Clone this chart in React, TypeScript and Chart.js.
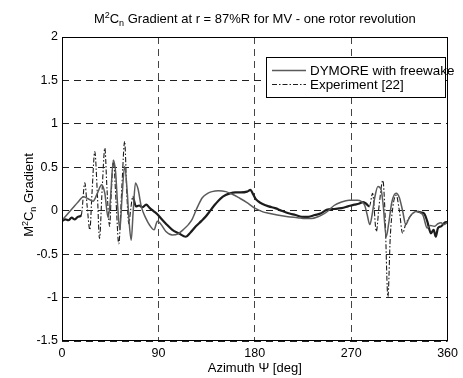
import React, { useEffect, useRef } from "react";
import { Chart, registerables } from "chart.js";
Chart.register(...registerables);

// ---- data ----
const dymoreAz = [0, 5, 10, 15, 20, 24, 29, 33, 37, 40, 43, 45, 48, 50, 52, 54, 56, 58.5, 61, 62.5, 64.6, 66.5, 68.6, 71, 74, 78, 82, 86, 89, 92, 97, 103, 108, 113, 118, 121.5, 126, 131, 136, 140, 146, 153, 159, 165, 172, 180, 187, 193, 201, 211, 220, 227, 233, 239, 244, 248.6, 254, 261, 268, 276, 279, 282.7, 285, 287.4, 289.5, 292, 295, 298, 300, 302.7, 305, 308, 312, 315, 318, 321, 323.5, 326, 330.6, 334, 337, 341, 344, 347.6, 351, 353.8, 357, 360];
const dymoreVal = [-0.11, -0.04, 0.03, 0.1, 0.16, 0.14, 0.11, 0.2, 0.3, 0.2, -0.08, 0.1, 0.58, 0.45, 0.05, -0.22, 0.15, 0.51, 0.2, -0.1, -0.34, 0.0, 0.32, 0.25, 0.05, -0.08, -0.17, -0.22, -0.12, -0.15, -0.24, -0.28, -0.27, -0.22, -0.16, -0.1, 0.03, 0.15, 0.2, 0.22, 0.23, 0.22, 0.19, 0.15, 0.1, 0.03, -0.01, -0.03, -0.05, -0.07, -0.08, -0.09, -0.09, -0.07, -0.04, 0.0, 0.06, 0.1, 0.12, 0.12, 0.11, 0.06, -0.05, -0.16, -0.05, 0.15, 0.28, 0.24, 0.05, -0.3, -0.15, 0.1, 0.2, 0.15, 0.0, -0.16, -0.1, -0.05, -0.01, -0.02, -0.05, -0.2, -0.17, -0.18, -0.15, -0.14, -0.16, -0.13];

const expAz = [0, 3, 6, 9, 12, 15, 18, 21.3, 23.5, 26, 28, 30.6, 33, 35, 37.5, 40, 42, 44.5, 46, 48, 50.5, 53, 56, 58.5, 60.5, 62.4, 64, 66, 69, 72, 75, 78.6, 82, 86, 89, 92.5, 97, 103, 109, 115.6, 120, 125, 130, 134, 139, 143.5, 148, 152.8, 157, 162, 167, 172.8, 176, 178, 180.6, 183, 186.8, 193, 199, 205, 211.5, 218, 224, 230, 236, 242, 247, 254, 261, 267, 273, 277, 281, 284, 287, 290, 293.5, 296, 299.6, 301.5, 304.3, 306.5, 309, 312, 315, 318, 321, 326, 332, 335, 338, 341, 344.5, 347, 349, 351, 354, 357, 360];
const expVal = [-0.12, -0.1, -0.11, -0.08, -0.1, -0.07, -0.05, 0.32, 0.05, -0.22, 0.2, 0.68, 0.2, -0.32, 0.25, 0.72, 0.25, -0.18, 0.2, 0.58, 0.1, -0.38, 0.3, 0.8, 0.2, -0.15, 0.0, 0.16, 0.05, 0.06, 0.04, 0.07, 0.03, -0.01, -0.04, -0.09, -0.15, -0.22, -0.26, -0.3, -0.25, -0.18, -0.12, -0.07, 0.01, 0.08, 0.14, 0.18, 0.2, 0.21, 0.21, 0.22, 0.24, 0.2, 0.14, 0.11, 0.08, 0.05, 0.03, 0.0, -0.03, -0.05, -0.07, -0.07, -0.05, -0.03, 0.01, 0.02, 0.03, 0.05, 0.07, 0.08, 0.1, 0.08, 0.05, 0.2, -0.24, 0.05, 0.35, 0.0, -0.99, -0.3, 0.05, 0.18, 0.0, -0.26, -0.15, -0.05, -0.01, -0.02, -0.03, -0.12, -0.26, -0.22, -0.3, -0.2, -0.18, -0.14, -0.13];

// azimuth ranges where the experiment trace reads as a clear dash-dot line
const expDashRanges = [[18, 66], [287, 330]];

const xTickValues = [0, 90, 180, 270, 360];
const yTickLabels = ["-1.5", "-1", "-0.5", "0", "0.5", "1", "1.5", "2"];
const seriesNames = ["DYMORE with freewake", "Experiment [22]"];
const titleRest = " Gradient at r = 87%R for MV - one rotor revolution";
const xTitle = "Azimuth \u03A8 [deg]";
const yTitleRest = " Gradient";

const FONT = "'Liberation Sans', Arial, Helvetica, sans-serif";
const DYMORE_COLOR = "#5a5a5a";
const EXP_COLOR = "#1c1c1c";
const DASHDOT = [5, 2, 1.5, 2];

type Part = { t: string; s: number; dy: number };

function richWidth(ctx: CanvasRenderingContext2D, parts: Part[]) {
  let w = 0;
  for (const p of parts) {
    ctx.font = `${p.s}px ${FONT}`;
    w += ctx.measureText(p.t).width;
  }
  return w;
}
function drawRich(ctx: CanvasRenderingContext2D, parts: Part[], x: number, y: number) {
  let cx = x;
  ctx.textAlign = "left";
  ctx.textBaseline = "alphabetic";
  for (const p of parts) {
    ctx.font = `${p.s}px ${FONT}`;
    ctx.fillText(p.t, cx, y + p.dy);
    cx += ctx.measureText(p.t).width;
  }
}

const inDash = (x: number) => expDashRanges.some(([a, b]) => x >= a && x < b);

const decorPlugin = {
  id: "decor",
  afterDatasetsDraw(chart: any) {
    const ctx: CanvasRenderingContext2D = chart.ctx;
    const a = chart.chartArea;
    ctx.save();
    // axes box
    ctx.strokeStyle = "#000";
    ctx.lineWidth = 1;
    ctx.setLineDash([]);
    ctx.strokeRect(Math.round(a.left) + 0.5, Math.round(a.top) + 0.5, Math.round(a.right - a.left) - 1, Math.round(a.bottom - a.top) - 1);

    // legend
    const lx = 266.5, ly = 57.5, lw = 179, lh = 40;
    ctx.fillStyle = "#fff";
    ctx.fillRect(lx, ly, lw, lh);
    ctx.strokeRect(lx, ly, lw, lh);
    const rows = [
      { y: 70, color: DYMORE_COLOR, dash: [] as number[], w: 1.5 },
      { y: 84, color: EXP_COLOR, dash: DASHDOT, w: 1 },
    ];
    rows.forEach((r, i) => {
      ctx.beginPath();
      ctx.strokeStyle = r.color;
      ctx.lineWidth = r.w;
      ctx.setLineDash(r.dash);
      ctx.moveTo(272, r.y + 0.5);
      ctx.lineTo(306, r.y + 0.5);
      ctx.stroke();
      ctx.setLineDash([]);
      ctx.fillStyle = "#000";
      ctx.font = `13.4px ${FONT}`;
      ctx.textAlign = "left";
      ctx.textBaseline = "middle";
      ctx.fillText(seriesNames[i], 310, r.y + 1);
    });
    ctx.restore();
  },
  afterDraw(chart: any) {
    const ctx: CanvasRenderingContext2D = chart.ctx;
    const a = chart.chartArea;
    const cx = (a.left + a.right) / 2;
    ctx.save();
    ctx.fillStyle = "#000";
    // title
    const tParts: Part[] = [
      { t: "M", s: 13, dy: 0 },
      { t: "2", s: 9, dy: -5 },
      { t: "C", s: 13, dy: 0 },
      { t: "n", s: 9, dy: 3 },
      { t: titleRest, s: 13, dy: 0 },
    ];
    const tw = richWidth(ctx, tParts);
    drawRich(ctx, tParts, cx - tw / 2, 23);
    // x title
    ctx.font = `13px ${FONT}`;
    ctx.textAlign = "center";
    ctx.textBaseline = "alphabetic";
    ctx.fillText(xTitle, cx, 372);
    // y title
    const yParts: Part[] = [
      { t: "M", s: 13, dy: 0 },
      { t: "2", s: 9, dy: -5 },
      { t: "C", s: 13, dy: 0 },
      { t: "n", s: 9, dy: 3 },
      { t: yTitleRest, s: 13, dy: 0 },
    ];
    const yw = richWidth(ctx, yParts);
    ctx.translate(33, 195);
    ctx.rotate(-Math.PI / 2);
    drawRich(ctx, yParts, -yw / 2, 0);
    ctx.restore();
  },
};

export default function App() {
  const ref = useRef<HTMLCanvasElement | null>(null);
  useEffect(() => {
    if (!ref.current) return;
    const chart = new Chart(ref.current, {
      type: "line",
      data: {
        datasets: [
          {
            label: seriesNames[0],
            data: dymoreAz.map((x, i) => ({ x, y: dymoreVal[i] })),
            borderColor: DYMORE_COLOR,
            borderWidth: 1.5,
            pointRadius: 0,
            cubicInterpolationMode: "monotone",
            fill: false,
          },
          {
            label: seriesNames[1],
            data: expAz.map((x, i) => ({ x, y: expVal[i] })),
            borderColor: EXP_COLOR,
            borderWidth: 2,
            pointRadius: 0,
            cubicInterpolationMode: "monotone",
            fill: false,
            segment: {
              borderDash: (c: any) => (inDash(c.p0.parsed.x) ? DASHDOT : []),
              borderWidth: (c: any) => (inDash(c.p0.parsed.x) ? 1.1 : 2.2),
            },
          },
        ],
      },
      options: {
        animation: false,
        responsive: false,
        layout: { padding: { top: 37, right: 13, left: 0, bottom: 0 } },
        plugins: { legend: { display: false }, title: { display: false }, tooltip: { enabled: false } },
        scales: {
          x: {
            type: "linear",
            min: 0,
            max: 360,
            afterBuildTicks: (s: any) => {
              s.ticks = xTickValues.map((v) => ({ value: v }));
            },
            afterFit: (s: any) => {
              s.height = 37;
            },
            ticks: {
              font: { family: FONT, size: 12.5 },
              color: "#000",
              padding: 5,
              maxRotation: 0,
              callback: (v: any) => String(v),
            },
            grid: { color: "#444", lineWidth: 1, drawTicks: false },
            border: { display: false, dash: [7, 5] },
          },
          y: {
            type: "linear",
            min: -1.5,
            max: 2,
            afterBuildTicks: (s: any) => {
              s.ticks = yTickLabels.map((l) => ({ value: parseFloat(l) }));
            },
            afterFit: (s: any) => {
              s.width = 62;
            },
            ticks: {
              font: { family: FONT, size: 12.5 },
              color: "#000",
              padding: 4,
              callback: (v: any) => yTickLabels.find((l) => parseFloat(l) === v) ?? "",
            },
            grid: { color: "#222", lineWidth: 1, drawTicks: false },
            border: { display: false, dash: [7, 5] },
          },
        },
      },
      plugins: [decorPlugin],
    } as any);
    return () => chart.destroy();
  }, []);
  return (
    <div style={{ position: "absolute", left: 0, top: 0, width: 463, height: 378, background: "#fff" }}>
      <canvas ref={ref} width={463} height={378} style={{ display: "block" }} />
    </div>
  );
}
